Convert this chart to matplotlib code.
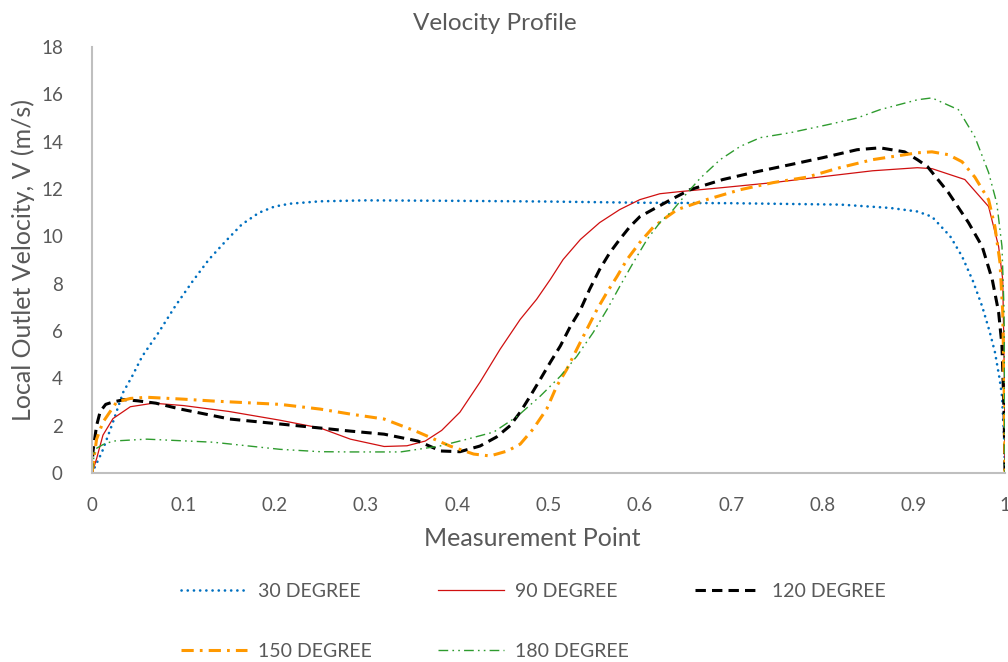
import matplotlib
matplotlib.use("Agg")
import matplotlib.pyplot as plt

plt.rcParams['font.family'] = ['Lato', 'DejaVu Sans']

TEXT = '#595959'

# ---------------- data ----------------
x30 = [0, 0.011, 0.023, 0.034, 0.044, 0.055, 0.073, 0.091, 0.11, 0.128, 0.146, 0.164, 0.183,
       0.2, 0.217, 0.25, 0.3, 0.4, 0.5, 0.6, 0.7, 0.82, 0.874, 0.904, 0.92, 0.94, 0.953,
       0.965, 0.975, 0.983, 0.989, 0.994, 0.9967, 0.999, 1.0]
y30 = [0, 0.89, 2.15, 3.4, 4.09, 4.93, 5.94, 7.04, 8.09, 9.02, 9.78, 10.5, 11.0,
       11.26, 11.38, 11.48, 11.52, 11.5, 11.47, 11.42, 11.4, 11.34, 11.2, 11.05, 10.83, 10.0, 9.15,
       8.1, 7.04, 6.0, 5.1, 4.0, 3.25, 1.5, 0]

x90 = [0, 0.005, 0.012, 0.023, 0.042, 0.067, 0.1, 0.15, 0.206, 0.25, 0.283, 0.32, 0.345,
       0.365, 0.383, 0.403, 0.425, 0.447, 0.469, 0.487, 0.502, 0.516, 0.535, 0.556, 0.578, 0.6,
       0.622, 0.644, 0.691, 0.746, 0.8, 0.855, 0.904, 0.92, 0.956, 0.982, 0.993, 0.9975,
       0.9985, 0.9995, 1.0]
y90 = [0, 0.6, 1.6, 2.3, 2.8, 2.95, 2.85, 2.6, 2.23, 1.9, 1.43, 1.12, 1.15,
       1.35, 1.8, 2.57, 3.84, 5.23, 6.49, 7.34, 8.18, 9.02, 9.87, 10.58, 11.13, 11.55,
       11.8, 11.89, 12.06, 12.27, 12.52, 12.77, 12.9, 12.86, 12.4, 11.26, 9.57, 8.18,
       6.0, 3.5, 0]

x120 = [0, 0.001, 0.005, 0.009, 0.015, 0.023, 0.035, 0.05, 0.07, 0.097, 0.151, 0.206, 0.25,
        0.283, 0.32, 0.357, 0.382, 0.403, 0.425, 0.443, 0.458, 0.469, 0.48, 0.491, 0.502,
        0.513, 0.524, 0.535, 0.545, 0.556, 0.567, 0.578, 0.589, 0.6, 0.615, 0.634, 0.655,
        0.691, 0.728, 0.765, 0.8, 0.838, 0.863, 0.89, 0.904, 0.915, 0.938, 0.96, 0.975,
        0.986, 0.993, 0.9967, 0.999, 1.0]
y120 = [0, 0.9, 2.0, 2.6, 2.9, 3.0, 3.1, 3.05, 2.95, 2.7, 2.28, 2.07, 1.9,
        1.77, 1.64, 1.35, 0.93, 0.9, 1.14, 1.52, 2.0, 2.57, 3.25, 3.96, 4.68,
        5.37, 6.2, 6.9, 7.76, 8.6, 9.3, 9.87, 10.4, 10.83, 11.15, 11.55, 11.97,
        12.4, 12.73, 13.03, 13.32, 13.66, 13.74, 13.57, 13.24, 12.95, 11.85, 10.58, 9.57,
        8.18, 6.8, 5.37, 2.57, 0]

x150 = [0, 0.005, 0.012, 0.027, 0.042, 0.06, 0.1, 0.133, 0.206, 0.25, 0.283, 0.32, 0.357,
        0.392, 0.418, 0.436, 0.455, 0.469, 0.483, 0.498, 0.509, 0.52, 0.531, 0.542, 0.553,
        0.564, 0.575, 0.586, 0.6, 0.615, 0.63, 0.641, 0.673, 0.71, 0.746, 0.783, 0.819,
        0.855, 0.904, 0.92, 0.938, 0.953, 0.967, 0.982, 0.989, 0.9945, 0.9975, 0.9995, 1.0]
y150 = [0, 1.43, 2.15, 3.0, 3.15, 3.2, 3.12, 3.04, 2.9, 2.7, 2.49, 2.28, 1.73,
        1.14, 0.8, 0.72, 0.93, 1.22, 1.85, 2.7, 3.67, 4.38, 5.23, 6.07, 6.9,
        7.63, 8.3, 9.02, 9.74, 10.4, 10.83, 11.13, 11.55, 11.97, 12.27, 12.5, 12.9,
        13.24, 13.53, 13.57, 13.45, 13.15, 12.5, 11.55, 10.4, 8.9, 6.8, 2.6, 0]

x180 = [0, 0.003, 0.012, 0.023, 0.06, 0.133, 0.206, 0.25, 0.283, 0.338, 0.381, 0.411, 0.44,
        0.466, 0.491, 0.513, 0.531, 0.549, 0.564, 0.578, 0.593, 0.608, 0.622, 0.636, 0.65,
        0.666, 0.688, 0.71, 0.732, 0.765, 0.805, 0.838, 0.863, 0.904, 0.92, 0.949, 0.967,
        0.982, 0.991, 0.9967, 0.999, 1.0]
y180 = [0, 1.0, 1.2, 1.35, 1.43, 1.3, 1.0, 0.9, 0.89, 0.89, 1.14, 1.43, 1.73,
        2.4, 3.25, 4.09, 4.93, 5.94, 6.9, 7.88, 8.9, 9.87, 10.58, 11.1, 11.75,
        12.45, 13.24, 13.8, 14.17, 14.38, 14.71, 15.0, 15.35, 15.77, 15.85, 15.35, 14.2,
        12.7, 11.4, 9.57, 6.8, 0]

labels = ['30 DEGREE', '90 DEGREE', '120 DEGREE', '150 DEGREE', '180 DEGREE']
xticks = [0, 0.1, 0.2, 0.3, 0.4, 0.5, 0.6, 0.7, 0.8, 0.9, 1]
xticklabels = ['0', '0.1', '0.2', '0.3', '0.4', '0.5', '0.6', '0.7', '0.8', '0.9', '1']
yticks = list(range(0, 19, 2))

# ---------------- figure ----------------
W, H = 1008, 662
fig = plt.figure(figsize=(W / 100, H / 100), dpi=100)
ax = fig.add_axes([92 / W, 1 - 473 / H, (1005 - 92) / W, (473 - 47) / H])

l30, = ax.plot(x30, y30, color='#0070C0', lw=1.9, linestyle=(0, (0.05, 2.3)),
               dash_capstyle='round', label=labels[0])
l90, = ax.plot(x90, y90, color='#D01010', lw=0.9, label=labels[1])
l120, = ax.plot(x120, y120, color='black', lw=2.2, linestyle=(0, (3.4, 2.0)), label=labels[2])
l150, = ax.plot(x150, y150, color='#FF9900', lw=2.2, linestyle=(0, (4.0, 2.0, 0.9, 2.0)),
                label=labels[3])
l180, = ax.plot(x180, y180, color='#2E9B2E', lw=1.0,
                linestyle=(0, (7, 3, 1.2, 3, 1.2, 3)), label=labels[4])

ax.set_xlim(0, 1)
ax.set_ylim(0, 18)
ax.set_xticks(xticks)
ax.set_xticklabels(xticklabels)
ax.set_yticks(yticks)
ax.tick_params(axis='both', length=0, labelsize=13.5, labelcolor=TEXT)
ax.tick_params(axis='y', pad=21)
ax.tick_params(axis='x', pad=17)
for s in ['top', 'right']:
    ax.spines[s].set_visible(False)
for s in ['left', 'bottom']:
    ax.spines[s].set_color('#BFBFBF')
    ax.spines[s].set_linewidth(1.5)

fig.text(495 / W, 1 - 23 / H, 'Velocity Profile', fontsize=17.5, color=TEXT,
         ha='center', va='center')
ax.set_xlabel('Measurement Point', fontsize=18, color=TEXT)
ax.xaxis.set_label_coords((532 - 92) / (1005 - 92), -(527 - 473) / (473 - 47))
ax.set_ylabel('Local Outlet Velocity, V (m/s)', fontsize=18, color=TEXT)
ax.yaxis.set_label_coords(-(92 - 35) / (1005 - 92), 0.5)

# legend: row-major order as in the reference
order = [l30, l150, l90, l180, l120]
fs = 14
fs_px = fs * 100 / 72
handle_px = 66
pad_px = 11
r = fig.canvas.get_renderer()
tmp = [fig.text(0, 0, t, fontsize=fs) for t in labels]
maxw = max(t.get_window_extent(r).width for t in tmp)
for t in tmp:
    t.remove()
colsp = (257 - handle_px - pad_px - maxw) / fs_px

leg = fig.legend(handles=order, labels=[h.get_label() for h in order], ncol=3,
                 loc='upper left', bbox_to_anchor=(181 / W, 1 - 583 / H),
                 frameon=False, fontsize=fs, handlelength=handle_px / fs_px,
                 handletextpad=pad_px / fs_px, columnspacing=colsp,
                 labelspacing=2.2, borderpad=0, borderaxespad=0)
for t in leg.get_texts():
    t.set_color(TEXT)

fig.savefig('out.png', dpi=100)
